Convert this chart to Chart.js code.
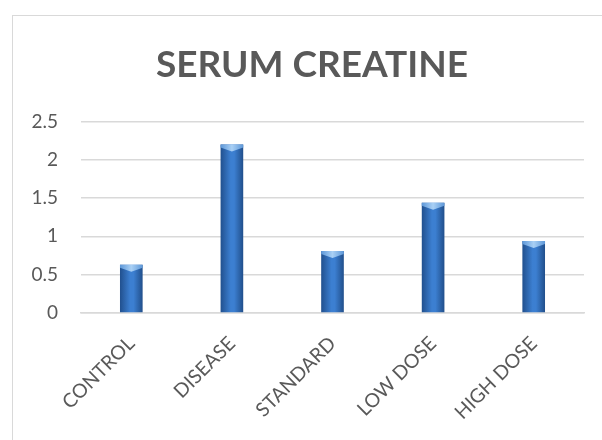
<!DOCTYPE html>
<html>
<head>
<meta charset="utf-8">
<script src="https://cdn.jsdelivr.net/npm/chart.js@4.4.1/dist/chart.umd.min.js"></script>
<style>
  html, body { margin: 0; padding: 0; background: #ffffff; }
  #wrap { position: relative; width: 602px; height: 440px; overflow: hidden; }
  #frame {
    position: absolute; left: 12px; top: 15px; right: -4px; bottom: -4px;
    border-left: 1.5px solid #d9d9d9; border-top: 1.5px solid #d9d9d9;
  }
  #c { position: absolute; left: 0; top: 0; }
</style>
</head>
<body>
<div id="wrap">
  <div id="frame"></div>
  <canvas id="c" width="602" height="440"></canvas>
</div>
<script>
// Serum creatine by treatment group
const categories = ['CONTROL', 'DISEASE', 'STANDARD', 'LOW DOSE', 'HIGH DOSE'];
const creatine = [0.63, 2.2, 0.81, 1.44, 0.94];
const yTicks = [0, 0.5, 1, 1.5, 2, 2.5];

const BAR_PCT = 0.225;
const textGray = '#595959';
const gridGray = '#d9d9d9';

// horizontal shading across each bar, taken from the category scale
function barFill(ctx) {
  const chart = ctx.chart;
  const xs = chart.scales.x;
  if (!xs || ctx.type !== 'data') return '#2f6cbd';
  const cx = xs.getPixelForValue(ctx.dataIndex);
  const w = (xs.width / categories.length) * BAR_PCT;
  if (!isFinite(cx) || !isFinite(w) || w <= 0) return '#2f6cbd';
  const g = chart.ctx.createLinearGradient(cx - w / 2, 0, cx + w / 2, 0);
  g.addColorStop(0, '#21508e');
  g.addColorStop(0.45, '#3c7fd1');
  g.addColorStop(0.6, '#3c7fd1');
  g.addColorStop(1, '#214f8b');
  return g;
}

// light bevelled cap on top of each bar
const barCaps = {
  id: 'barCaps',
  afterDatasetsDraw(chart) {
    const c = chart.ctx;
    chart.getDatasetMeta(0).data.forEach(el => {
      const { x, y, width } = el.getProps(['x', 'y', 'width'], true);
      if (![x, y, width].every(isFinite)) return;
      const l = x - width / 2, r = x + width / 2;
      const g = c.createLinearGradient(l, 0, r, 0);
      g.addColorStop(0, '#5d97d8');
      g.addColorStop(0.5, '#a9d0f5');
      g.addColorStop(1, '#5d97d8');
      c.save();
      c.fillStyle = g;
      c.beginPath();
      c.moveTo(l, y);
      c.lineTo(r, y);
      c.lineTo(r, y + 3);
      c.lineTo(x, y + 7);
      c.lineTo(l, y + 3);
      c.closePath();
      c.fill();
      c.restore();
    });
  }
};

// centre the title over the framed panel rather than the whole canvas
const titleInset = {
  id: 'titleInset',
  afterLayout(chart) {
    if (chart.titleBlock) chart.titleBlock.left += 40;
  }
};

new Chart(document.getElementById('c'), {
  type: 'bar',
  data: {
    labels: categories,
    datasets: [{
      label: 'SERUM CREATINE',
      data: creatine,
      backgroundColor: barFill,
      borderWidth: 0,
      barPercentage: BAR_PCT,
      categoryPercentage: 1
    }]
  },
  options: {
    responsive: false,
    animation: false,
    devicePixelRatio: 1,
    layout: { padding: { left: 0, right: 18, top: 0, bottom: 0 } },
    plugins: {
      legend: { display: false },
      tooltip: { enabled: false },
      title: {
        display: true,
        text: 'SERUM CREATINE',
        color: textGray,
        font: { family: 'Lato', size: 37, weight: 'bold', lineHeight: 1.2 },
        padding: { top: 43, bottom: 34 }
      }
    },
    scales: {
      x: {
        grid: { display: false, drawTicks: false },
        border: { display: true, color: gridGray, width: 1.5 },
        ticks: {
          color: textGray,
          font: { family: 'Lato', size: 19.5 },
          minRotation: 45,
          maxRotation: 45,
          padding: 19,
          autoSkip: false
        },
        afterFit(s) { s.height = 127; }
      },
      y: {
        min: 0,
        max: 2.5,
        grid: { color: gridGray, lineWidth: 1.5, drawTicks: false },
        border: { display: false },
        ticks: {
          color: textGray,
          font: { family: 'Lato', size: 19 },
          padding: 23,
          callback: v => String(v)
        },
        afterBuildTicks(s) { s.ticks = yTicks.map(v => ({ value: v })); },
        afterFit(s) { s.width = 81; }
      }
    }
  },
  plugins: [barCaps, titleInset]
});
</script>
</body>
</html>
